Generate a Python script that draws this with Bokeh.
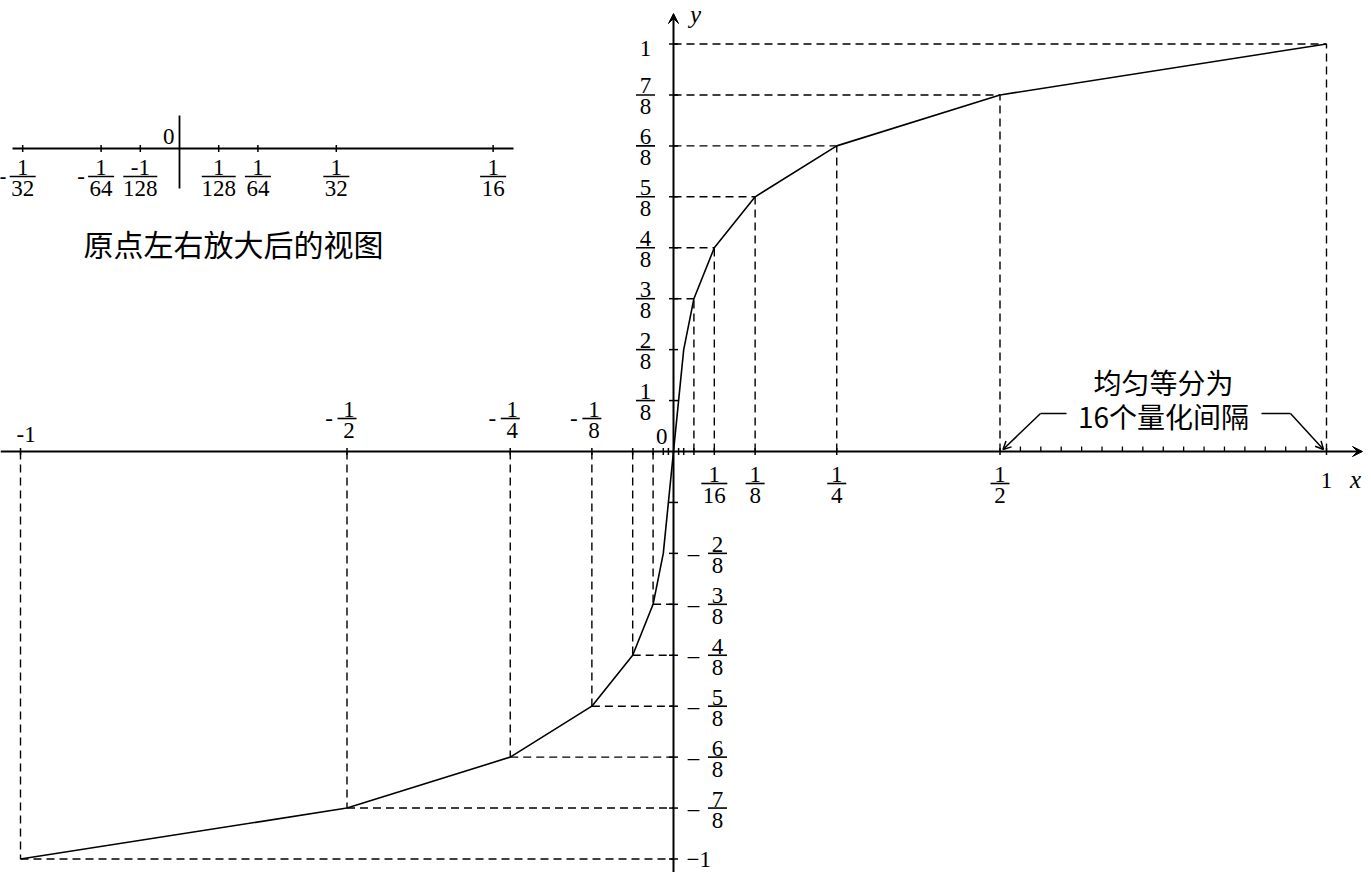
import math
from bokeh.plotting import figure
from bokeh.models import Range1d, Arrow, VeeHead, OpenHead
from bokeh.core.properties import value
from bokeh.embed import file_html
from bokeh.resources import INLINE

# ---------------- data ----------------
# A-law 13-segment characteristic: break points (positive half)
seg_x = [0, 1/128, 1/64, 1/32, 1/16, 1/8, 1/4, 1/2, 1]
seg_y = [0, 1/8, 2/8, 3/8, 4/8, 5/8, 6/8, 7/8, 1]
# y tick values (multiples of 1/8)
y_ticks = [k / 8 for k in range(-8, 9) if k != 0]
# positive y-axis labels (numerators over 8)
pos_y_nums = ["1", "2", "3", "4", "5", "6", "7"]
pos_y_vals = [1/8, 2/8, 3/8, 4/8, 5/8, 6/8, 7/8]
# negative y-axis labels
neg_y_nums = ["2", "3", "4", "5", "6", "7"]
neg_y_vals = [-2/8, -3/8, -4/8, -5/8, -6/8, -7/8]
# x-axis fraction labels
pos_x_dens = ["16", "8", "4", "2"]
pos_x_vals = [1/16, 1/8, 1/4, 1/2]
neg_x_dens = ["2", "4", "8"]
neg_x_vals = [-1/2, -1/4, -1/8]
# 16 uniform quantisation steps between 1/2 and 1
quant_ticks = [0.5 + k / 32 for k in range(1, 16)]
# inset (zoomed view around the origin)
inset_vals = [-1/32, -1/64, -1/128, 1/128, 1/64, 1/32, 1/16]
inset_nums = ["1", "1", "-1", "1", "1", "1", "1"]
inset_dens = ["32", "64", "128", "128", "64", "32", "16"]
inset_minus = [True, True, False, False, False, False, False]

# ---------------- layout ----------------
W, H = 1364, 872
OFF = 0
OX, OY, UX, UY = 673, 451, 653, 407.5      # main origin / unit lengths (page px)
IOX, IUX = 179, 5018                       # inset origin / unit length
TICK_UP = 5 / UY

p = figure(width=W, height=H,
           x_range=Range1d((OFF - OX) / UX, (OFF + W - OX) / UX),
           y_range=Range1d((OY - (OFF + H)) / UY, (OY - OFF) / UY),
           output_backend="svg", toolbar_location=None, min_border=0,
           x_axis_location=None, y_axis_location=None,
           outline_line_color=None, background_fill_color="white")
p.grid.visible = False
p.extra_x_ranges = {"px": Range1d(OFF, OFF + W),
                    "inset": Range1d((OFF - IOX) / IUX, (OFF + W - IOX) / IUX)}
p.extra_y_ranges = {"py": Range1d(OFF + H, OFF)}

SERIF = value("Liberation Serif")
CJK = value("Noto Sans CJK SC")
FS = "23px"
BAR_W = {1: 19, 2: 26, 3: 34}
NUM_O, DEN_O = -9, 12


def txt(xs, ys, ts, xr="default", yr="default", size=FS, align="center",
        xo=0, yo=0, font=SERIF, style="normal"):
    p.text(x=xs, y=ys, text=ts, x_range_name=xr, y_range_name=yr,
           text_font=font, text_font_size=size, text_align=align,
           text_baseline="middle", x_offset=xo, y_offset=yo,
           text_color="black", text_font_style=style)


def frac(xs, ys, nums, dens, xr="default", yr="default", xo=0):
    txt(xs, ys, nums, xr, yr, xo=xo, yo=NUM_O)
    txt(xs, ys, dens, xr, yr, xo=xo, yo=DEN_O)
    p.rect(x=xs, y=ys, width=[BAR_W[len(d)] for d in dens], height=1.6,
           width_units="screen", height_units="screen",
           x_range_name=xr, y_range_name=yr,
           fill_color="black", line_color=None)


# ---- curve ----
curve_x = [-v for v in seg_x[::-1]] + seg_x[1:]
curve_y = [-v for v in seg_y[::-1]] + seg_y[1:]

# ---- dashed guides ----
gx = seg_x[3:]
gy = seg_y[3:]
DASH = "8 5"
p.segment(x0=gx, y0=[0] * len(gx), x1=gx, y1=gy, line_dash=DASH, line_width=1.4, line_color="black")
p.segment(x0=[0] * len(gx), y0=gy, x1=gx, y1=gy, line_dash=DASH, line_width=1.4, line_color="black")
ngx = [-v for v in gx]
ngy = [-v for v in gy]
p.segment(x0=ngx, y0=[0] * len(gx), x1=ngx, y1=ngy, line_dash=DASH, line_width=1.4, line_color="black")
p.segment(x0=ngx, y0=ngy, x1=[0] * len(gx), y1=ngy, line_dash=DASH, line_width=1.4, line_color="black")

p.line(curve_x, curve_y, line_width=1.6, line_color="black")

# ---- axes ----
p.add_layout(Arrow(end=VeeHead(size=10, fill_color="black", line_color="black", line_width=1),
                   x_start=OFF, x_end=1362, y_start=0, y_end=0, x_range_name="px",
                   line_width=2, line_color="black"))
p.add_layout(Arrow(end=VeeHead(size=10, fill_color="black", line_color="black", line_width=1),
                   x_start=0, x_end=0, y_start=OFF + H + 4, y_end=13, y_range_name="py",
                   line_width=2, line_color="black"))

# ticks
xt = [v for v in seg_x[1:]] + [-v for v in seg_x[1:]]
p.scatter(x=xt, y=[0] * len(xt), marker="dash", angle=math.pi / 2, size=7,
          line_color="black", line_width=1.5)
p.scatter(x=[0] * len(y_ticks), y=y_ticks, marker="dash", size=9,
          line_color="black", line_width=1.5)
p.segment(x0=quant_ticks, y0=[0] * len(quant_ticks), x1=quant_ticks,
          y1=[TICK_UP] * len(quant_ticks), line_color="black", line_width=1.3)

# ---- axis labels ----
frac([645] * len(pos_y_vals), pos_y_vals, pos_y_nums, ["8"] * len(pos_y_vals), xr="px")
txt([645], [1], ["1"], xr="px", yo=4)
frac([717] * len(neg_y_vals), neg_y_vals, neg_y_nums, ["8"] * len(neg_y_vals), xr="px")
txt([693] * len(neg_y_vals), neg_y_vals, ["–"] * len(neg_y_vals), xr="px")
txt([686], [-1], ["−1"], xr="px", align="left")

frac(pos_x_vals, [483] * len(pos_x_vals), ["1"] * len(pos_x_vals), pos_x_dens, yr="py")
txt([1], [480], ["1"], yr="py")
txt([1355], [479], ["x"], xr="px", yr="py", size="25px", style="italic")
txt([695], [14], ["y"], xr="px", yr="py", size="25px", style="italic")
txt([667], [436], ["0"], xr="px", yr="py", align="right")

frac(neg_x_vals, [418] * len(neg_x_vals), ["1"] * len(neg_x_vals), neg_x_dens, yr="py", xo=2)
txt(neg_x_vals, [418] * len(neg_x_vals), ["-"] * len(neg_x_vals), yr="py", xo=-18)
txt([-1], [434], ["-1"], yr="py", align="left", xo=-4)

# ---- quantisation annotation ----
txt([1163], [381], ["均匀等分为"], xr="px", yr="py", size="28px", font=CJK)
txt([1163], [415], ["16个量化间隔"], xr="px", yr="py", size="28px", font=CJK)
p.line([1066, 1040], [413, 413], x_range_name="px", y_range_name="py", line_color="black", line_width=1.5)
p.line([1261, 1290], [413, 413], x_range_name="px", y_range_name="py", line_color="black", line_width=1.5)
p.add_layout(Arrow(end=OpenHead(size=8, line_width=1.5), x_start=1040, y_start=413,
                   x_end=OX + UX * 0.5 + 3, y_end=OY - 2, x_range_name="px", y_range_name="py",
                   line_width=1.5))
p.add_layout(Arrow(end=OpenHead(size=8, line_width=1.5), x_start=1290, y_start=413,
                   x_end=OX + UX * 1.0 - 3, y_end=OY - 2, x_range_name="px", y_range_name="py",
                   line_width=1.5))

# ---- inset ----
p.line([12, 513], [148, 148], x_range_name="px", y_range_name="py", line_color="black", line_width=1.8)
p.line([0, 0], [115, 188], x_range_name="inset", y_range_name="py", line_color="black", line_width=1.8)
p.scatter(x=inset_vals, y=[148] * len(inset_vals), x_range_name="inset", y_range_name="py",
          marker="dash", angle=math.pi / 2, size=7, line_color="black", line_width=1.5)
frac(inset_vals, [176] * len(inset_vals), inset_nums, inset_dens, xr="inset", yr="py")
mx = [v for v, m in zip(inset_vals, inset_minus) if m]
txt(mx, [176] * len(mx), ["-"] * len(mx), xr="inset", yr="py", xo=-20)
txt([0], [136], ["0"], xr="inset", yr="py", align="right", xo=-5)
txt([233], [242], ["原点左右放大后的视图"], xr="px", yr="py", size="30px", font=CJK)

open("out.html", "w").write(file_html(p, INLINE))
